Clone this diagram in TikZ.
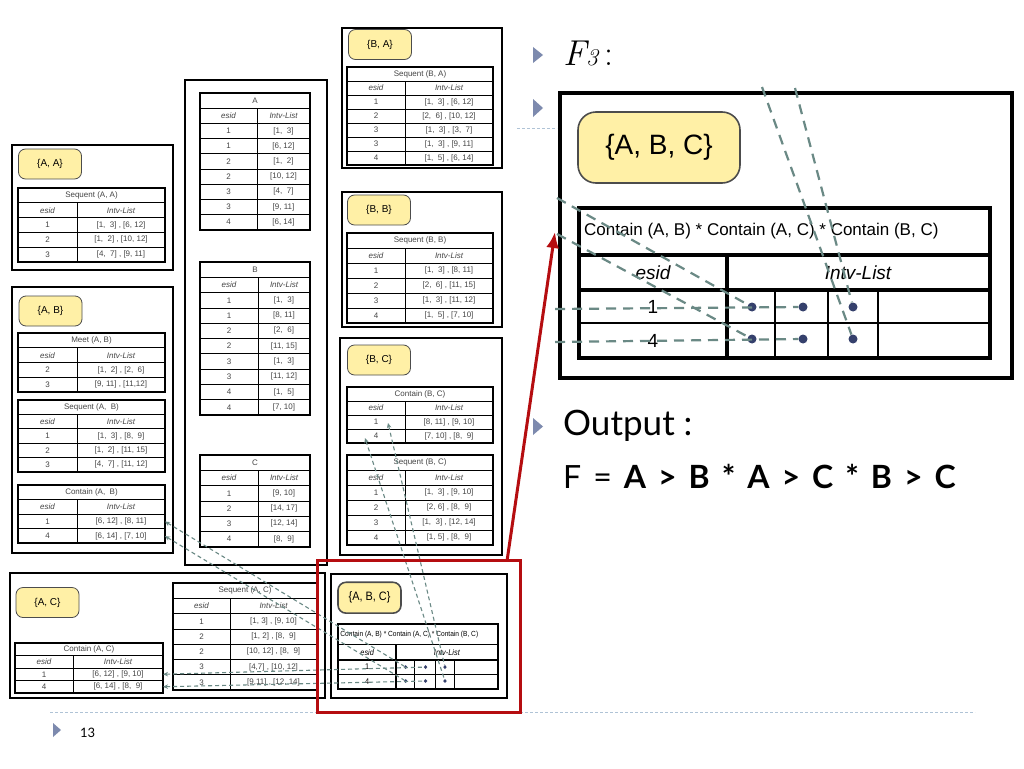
\documentclass[tikz,border=0pt]{standalone}
\usepackage{fontspec}
\setmainfont{Lato}
\newfontfamily\tabfont{Liberation Sans}
\usetikzlibrary{arrows.meta}
\definecolor{labelyellow}{HTML}{FFF0A6}
\definecolor{linkgray}{HTML}{6A8985}
\definecolor{dotblue}{HTML}{35406C}
\definecolor{bulletblue}{HTML}{7D8AAE}
\definecolor{redline}{HTML}{B50D10}
\definecolor{sepblue}{HTML}{AFC3D6}
\definecolor{celltext}{HTML}{454545}
\tikzstyle{setbox}=[line width=2.5pt]
\tikzstyle{tframe}=[line width=2pt]
\tikzstyle{tgrid}=[line width=0.8pt]
\tikzstyle{tcell}=[inner sep=0pt, text=celltext, font=\tabfont\fontsize{8}{8}\selectfont]
\tikzstyle{thead}=[font=\tabfont\itshape\fontsize{8}{8}\selectfont]
\tikzstyle{setlabel}=[draw=black!70, fill=labelyellow, rounded corners=7pt, line width=0.8pt, minimum width=63pt, minimum height=30pt, inner sep=0pt, font=\tabfont\fontsize{10}{10}\selectfont]
\tikzstyle{bigcorner}=[rounded corners=18pt]
\tikzstyle{flowlink}=[draw=linkgray, line width=1.1pt, dash pattern=on 4pt off 3pt]
\tikzstyle{biglink}=[flowlink, line width=2.2pt, dash pattern=on 10pt off 7pt]
\tikzstyle{backtip}=[{Stealth[length=5pt,width=4.5pt]}-]
\tikzstyle{dotn}=[circle, fill=dotblue, inner sep=0pt, minimum size=9pt]
\tikzstyle{panelframe}=[line width=4pt]
\tikzstyle{pframe}=[line width=3.5pt]
\tikzstyle{pgrid}=[line width=2pt]
\tikzstyle{slidebullet}=[fill=bulletblue]
\tikzstyle{septrack}=[draw=sepblue, line width=0.8pt, dash pattern=on 3pt off 2pt]
\newcommand{\gp}{\hspace{12pt}}

% esid table: name, left, split, right, top, row height, rows, title, data
\newcommand{\esidtable}[9]{%
  \node[tcell] (#1-title) at ({(#2+#4)/2},{#5+0.5*#6}) {#8};
  \node[tcell,thead] (#1-esid) at ({(#2+#3)/2},{#5+1.5*#6}) {esid};
  \node[tcell,thead] (#1-intv) at ({(#3+#4)/2},{#5+1.5*#6}) {Intv-List};
  \foreach \sid/\ivl [count=\rowno] in {#9} {
    \node[tcell] (#1-e\rowno) at ({(#2+#3)/2},{#5+(\rowno+1.5)*#6}) {\sid};
    \node[tcell] (#1-v\rowno) at ({(#3+#4)/2},{#5+(\rowno+1.5)*#6}) {\ivl};
    \coordinate (#1-r\rowno) at (#4,{#5+(\rowno+1.5)*#6});
    \draw[tgrid] (#2,{#5+(\rowno+1)*#6}) -- (#4,{#5+(\rowno+1)*#6});
  }
  \draw[tgrid] (#2,{#5+#6}) -- (#4,{#5+#6});
  \draw[tgrid] (#3,{#5+#6}) -- (#3,{#5+(#7+2)*#6});
  \draw[tframe] (#2,#5) rectangle (#4,{#5+(#7+2)*#6});
}

% the {A, B, C} result panel, drawn in its own frame
\newcommand{\abcpanel}[1]{%
  \draw[panelframe,fill=white] (0,0) rectangle (452,285);
  \node[setlabel, bigcorner, line width=1.6pt, minimum width=162pt, minimum height=71pt, font=\tabfont\fontsize{28}{28}\selectfont] (#1-lab) at (99,54.5) {\{A, B, C\}};
  \node[anchor=west, inner sep=0pt, font=\tabfont\fontsize{17}{17}\selectfont] (#1-title) at (24,138.5) {Contain (A, B) * Contain (A, C) * Contain (B, C)};
  \node[font=\tabfont\itshape\fontsize{19}{19}\selectfont] (#1-esid) at (93,179.5) {esid};
  \node[font=\tabfont\itshape\fontsize{19}{19}\selectfont] (#1-intv) at (298,179.5) {Intv-List};
  \node[font=\tabfont\fontsize{19}{19}\selectfont] (#1-e1) at (93,213.5) {1};
  \node[font=\tabfont\fontsize{19}{19}\selectfont] (#1-e4) at (93,247.5) {4};
  \draw[pgrid] (19,230) -- (430,230);
  \draw[pgrid] (215,197) -- (215,265) (268,197) -- (268,265) (318,197) -- (318,265);
  \draw[pframe] (19,162) -- (430,162) (19,197) -- (430,197) (167,162) -- (167,265);
  \draw[pframe] (19,115) rectangle (430,265);
  \foreach \rw/\yy in {1/214,4/246}
    \foreach \cn/\xx in {1/192,2/243,3/293}
      \node[dotn] (#1-d\rw\cn) at (\xx,\yy) {};
}

\begin{document}
\begin{tikzpicture}[x=1pt,y=-1pt]
\useasboundingbox (0,0) rectangle (1024,768);
\fill[white] (0,0) rectangle (1024,768);

% separators
\draw[septrack] (517,128) -- (557,128);
\draw[septrack] (50,712) -- (975,712);

% frames of the pair sets
\draw[setbox] (12,145) rectangle (173,270);
\draw[setbox] (12,287) rectangle (173,553);
\draw[setbox] (185,80) rectangle (327,565);
\draw[setbox] (342,28) rectangle (502,168);
\draw[setbox] (342,192) rectangle (502,327);
\draw[setbox] (340,338) rectangle (502,555);
\draw[setbox] (10,573) rectangle (325,698);

\node[setlabel] (aa-lab) at (50,164) {\{A, A\}};
\node[setlabel] (ab-lab) at (50.5,311) {\{A, B\}};
\node[setlabel] (ba-lab) at (380,44.5) {\{B, A\}};
\node[setlabel] (bb-lab) at (379,210) {\{B, B\}};
\node[setlabel] (bc-lab) at (379,360) {\{B, C\}};
\node[setlabel] (ac-lab) at (47.5,602.5) {\{A, C\}};

% tables
\esidtable{aa}{18}{77}{165}{188}{14.8}{3}{Sequent (A, A)}{1/{[1,~~3] , [6, 12]}, 2/{[1,~~2] , [10, 12]}, 3/{[4,~~7] , [9, 11]}}
\esidtable{abmeet}{18}{77}{165}{333}{14.8}{2}{Meet (A, B)}{2/{[1,~~2] , [2,~~6]}, 3/{[9, 11] , [11,12]}}
\esidtable{abseq}{18}{77}{165}{400}{14.4}{3}{Sequent (A,~~B)}{1/{[1,~~3] , [8,~~9]}, 2/{[1,~~2] , [11, 15]}, 3/{[4,~~7] , [11, 12]}}
\esidtable{abcon}{18}{77}{165}{485}{14.6}{2}{Contain (A,~~B)}{1/{[6, 12] , [8, 11]}, 4/{[6, 14] , [7, 10]}}
\esidtable{tA}{200}{257}{310}{93}{15.2}{7}{A}{1/{[1,~~3]}, 1/{[6, 12]}, 2/{[1,~~2]}, 2/{[10, 12]}, 3/{[4,~~7]}, 3/{[9, 11]}, 4/{[6, 14]}}
\esidtable{tB}{200}{258}{310}{262}{15.3}{8}{B}{1/{[1,~~3]}, 1/{[8, 11]}, 2/{[2,~~6]}, 2/{[11, 15]}, 3/{[1,~~3]}, 3/{[11, 12]}, 4/{[1,~~5]}, 4/{[7, 10]}}
\esidtable{tC}{200}{258}{310}{455}{15.3}{4}{C}{1/{[9, 10]}, 2/{[14, 17]}, 3/{[12, 14]}, 4/{[8,~~9]}}
\esidtable{ba}{347}{405}{493}{67}{14}{5}{Sequent (B, A)}{1/{[1,~~3] , [6, 12]}, 2/{[2,~~6] , [10, 12]}, 3/{[1,~~3] , [3,~~7]}, 3/{[1,~~3] , [9, 11]}, 4/{[1,~~5] , [6, 14]}}
\esidtable{bb}{347}{405}{493}{233}{15}{4}{Sequent (B, B)}{1/{[1,~~3] , [8, 11]}, 2/{[2,~~6] , [11, 15]}, 3/{[1,~~3] , [11, 12]}, 4/{[1,~~5] , [7, 10]}}
\esidtable{bccon}{347}{405}{493}{387}{14}{2}{Contain (B, C)}{1/{[8, 11] , [9, 10]}, 4/{[7, 10] , [8,~~9]}}
\esidtable{bcseq}{347}{405}{493}{455}{15}{4}{Sequent (B, C)}{1/{[1,~~3] , [9, 10]}, 2/{[2,~6] , [8,~~9]}, 3/{[1,~~3] , [12, 14]}, 4/{[1,~5] , [8,~~9]}}
\esidtable{accon}{15}{73}{163}{643}{12.5}{2}{Contain (A, C)}{1/{[6, 12] , [9, 10]}, 4/{[6, 14] , [8,~~9]}}
\esidtable{acseq}{173}{230}{317}{583}{15.3}{5}{Sequent (A, C)}{1/{[1, 3] , [9, 10]}, 2/{[1, 2] , [8,~~9]}, 2/{[10, 12] , [8,~~9]}, 3/{[4,7] , [10, 12]}, 3/{[9,11] , [12, 14]}}

% small result panel
\begin{scope}[shift={(331,574)}, xscale=0.389, yscale=0.435, transform shape,
  panelframe/.style={line width=2.5pt}, pframe/.style={line width=1.8pt}, pgrid/.style={line width=0.8pt},
  bigcorner/.style={rounded corners=8pt}]
  \abcpanel{sm}
\end{scope}

% links back to the source tables
\coordinate (bcTip1) at (388,423);
\coordinate (bcTip4) at (365,438);
\draw[flowlink,backtip] (abcon-r1) -- (sm-d11);
\draw[flowlink,backtip] (abcon-r2) -- (sm-d41);
\draw[flowlink,backtip] (accon-r1) -- (sm-d12);
\draw[flowlink,backtip] (accon-r2) -- (sm-d42);
\draw[flowlink,backtip] (bcTip1) -- (sm-d13);
\draw[flowlink,backtip] (bcTip4) -- (sm-d43);

% zoom frame and arrow
\node[draw=redline, line width=3pt, minimum width=203pt, minimum height=152pt, inner sep=0pt] (zoomframe) at (418.5,636) {};
\coordinate (redTail) at (507,561);
\coordinate (redTip) at (555,232);

% enlarged result panel
\begin{scope}[shift={(560,93)}]
  \abcpanel{bg}
\end{scope}
\coordinate (bgIn1) at (557,198);
\coordinate (bgIn4) at (557,234);
\coordinate (bgRow1) at (555,309);
\coordinate (bgRow4) at (555,342);
\coordinate (bgTop4) at (762,87);
\coordinate (bgTop1) at (795,88);
\draw[biglink] (bgIn1) -- (bg-d11);
\draw[biglink] (bgIn4) -- (bg-d41);
\draw[biglink] (bgRow1) -- (bg-d12);
\draw[biglink] (bgRow4) -- (bg-d42);
\draw[biglink] (bgTop4) -- (bg-d43);
\draw[biglink] (bgTop1) -- (bg-d13);

\draw[redline, line width=3pt, -{Latex[length=16pt,width=13pt]}] (redTail) -- (redTip);

% slide text
\fill[slidebullet] (533,47) -- (543,55) -- (533,63) -- cycle;
\fill[slidebullet] (533,99) -- (543,108) -- (533,117) -- cycle;
\fill[slidebullet] (533,418) -- (543,426.5) -- (533,435) -- cycle;
\fill[slidebullet] (53,723) -- (61,730) -- (53,737) -- cycle;
\node[anchor=base west, inner sep=0pt, font=\fontfamily{lmr}\itshape\fontsize{36}{36}\selectfont] (ftitle) at (563,65) {F{\fontsize{24}{24}\selectfont 3}\,{\upshape :}};
\node[anchor=base west, inner sep=0pt, font=\fontsize{35}{35}\selectfont] (outlabel) at (563,435) {Output :};
\node[anchor=base west, inner sep=0pt, font=\fontsize{32}{32}\selectfont] (formula) at (563,488)
  {F\gp=\gp\textbf{A\gp>\gp B\gp*\gp A\gp>\gp C\gp*\gp B\gp>\gp C}};
\node[anchor=base west, inner sep=0pt, font=\fontsize{13}{13}\selectfont] (pagenum) at (80,737) {13};
\end{tikzpicture}
\end{document}
